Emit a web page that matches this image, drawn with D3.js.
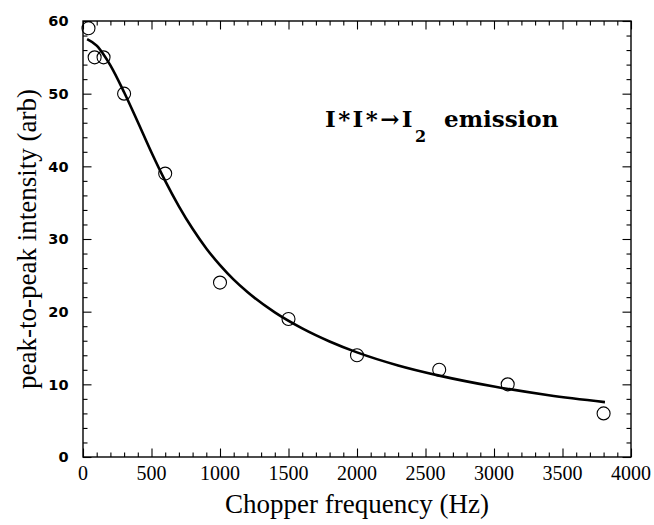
<!DOCTYPE html>
<html>
<head>
<meta charset="utf-8">
<script src="https://cdn.jsdelivr.net/npm/d3@7/dist/d3.min.js"></script>
<style>
  html, body { margin: 0; padding: 0; background: #fff; }
  svg { display: block; }
  .serif { font-family: "Liberation Serif", "Times New Roman", serif; }
  .sans { font-family: "DejaVu Sans", sans-serif; }
  .label { font-family: "DejaVu Serif", serif; font-weight: bold; }
</style>
</head>
<body>
<div id="chart"></div>
<script>
// Measured peak-to-peak intensity vs chopper frequency
const freqHz    = [40, 85, 150, 300, 600, 1000, 1500, 2000, 2600, 3100, 3800];
const intensity = [59, 55, 55, 50, 39, 24, 19, 14, 12, 10, 6];

// Fitted curve, sampled along its length
const fitHz = [30, 100, 150, 200, 300, 400, 500, 600, 700, 800, 900, 1000, 1100, 1200, 1400, 1600, 1800, 2000, 2300, 2600, 3000, 3400, 3810];
const fitI  = [57.5, 56.6, 55.4, 53.9, 50.2, 46.1, 41.9, 38.0, 34.5, 31.4, 28.7, 26.4, 24.4, 22.7, 19.9, 17.7, 15.9, 14.4, 12.6, 11.2, 9.7, 8.5, 7.55];

const xTicks = [0, 500, 1000, 1500, 2000, 2500, 3000, 3500, 4000];
const yTicks = [0, 10, 20, 30, 40, 50, 60];

const W = 654, H = 525;
const margin = { left: 83, right: 654 - 631, top: 21, bottom: 525 - 457 };

const svg = d3.select("#chart").append("svg")
  .attr("width", W).attr("height", H);

const x = d3.scaleLinear().domain([0, 4000]).range([margin.left, W - margin.right]);
const y = d3.scaleLinear().domain([0, 60]).range([H - margin.bottom, margin.top]);

// Frame
svg.append("rect")
  .attr("x", x(0)).attr("y", y(60))
  .attr("width", x(4000) - x(0)).attr("height", y(0) - y(60))
  .attr("fill", "none").attr("stroke", "#000").attr("stroke-width", 1.4);

const xMinor = d3.range(0, 4001, 100).filter(v => v % 500 !== 0);
const yMinor = d3.range(0, 61, 2).filter(v => v % 10 !== 0);
const major = 8.5, minor = 4.5;

function ticks(axisGen, pos, values, size) {
  svg.append("g")
    .attr("transform", pos)
    .call(axisGen.tickValues(values).tickSize(size).tickFormat(""))
    .call(g => g.select(".domain").remove())
    .call(g => g.selectAll("line").attr("stroke", "#000").attr("stroke-width", 1.1));
}

// Inward ticks on all four sides
const bottomT = `translate(0,${y(0)})`, topT = `translate(0,${y(60)})`;
const leftT = `translate(${x(0)},0)`, rightT = `translate(${x(4000)},0)`;
ticks(d3.axisTop(x), bottomT, xTicks, major);
ticks(d3.axisTop(x), bottomT, xMinor, minor);
ticks(d3.axisBottom(x), topT, xTicks, major);
ticks(d3.axisBottom(x), topT, xMinor, minor);
ticks(d3.axisRight(y), leftT, yTicks, major);
ticks(d3.axisRight(y), leftT, yMinor, minor);
ticks(d3.axisLeft(y), rightT, yTicks, major);
ticks(d3.axisLeft(y), rightT, yMinor, minor);

// Tick labels
svg.append("g").selectAll("text").data(xTicks).join("text")
  .attr("class", "serif")
  .attr("x", d => x(d)).attr("y", 480)
  .attr("text-anchor", "middle")
  .attr("font-size", 20)
  .text(d => d);

svg.append("g").selectAll("text").data(yTicks).join("text")
  .attr("class", "sans")
  .attr("x", x(0) - 14.5).attr("y", d => y(d) + 5.3)
  .attr("text-anchor", "end")
  .attr("font-size", 14.5).attr("font-weight", "bold")
  .text(d => d);

// Axis titles
svg.append("text")
  .attr("class", "serif")
  .attr("x", (x(0) + x(4000)) / 2).attr("y", 513)
  .attr("text-anchor", "middle")
  .attr("font-size", 27)
  .text("Chopper frequency (Hz)");

svg.append("text")
  .attr("class", "serif")
  .attr("transform", `translate(36,${(y(0) + y(60)) / 2}) rotate(-90)`)
  .attr("text-anchor", "middle")
  .attr("font-size", 27)
  .text("peak-to-peak intensity (arb)");

// Fitted curve
const line = d3.line()
  .x((d, i) => x(fitHz[i]))
  .y((d, i) => y(fitI[i]))
  .curve(d3.curveMonotoneX);
svg.append("path")
  .attr("d", line(fitHz))
  .attr("fill", "none").attr("stroke", "#000").attr("stroke-width", 2.6);

// Measured points
svg.append("g").selectAll("circle").data(freqHz).join("circle")
  .attr("cx", d => x(d)).attr("cy", (d, i) => y(intensity[i]))
  .attr("r", 6.5)
  .attr("fill", "none").attr("stroke", "#000").attr("stroke-width", 1.1);

// Annotation
const ann = svg.append("text")
  .attr("class", "label")
  .attr("x", 325).attr("y", 127)
  .attr("font-size", 23);
ann.append("tspan").attr("letter-spacing", 2.4).text("I*I*\u2192I");
ann.append("tspan").attr("dy", 15).attr("font-size", 16).text("2");
ann.append("tspan").attr("x", 444).attr("dy", -15).text("emission");
</script>
</body>
</html>
